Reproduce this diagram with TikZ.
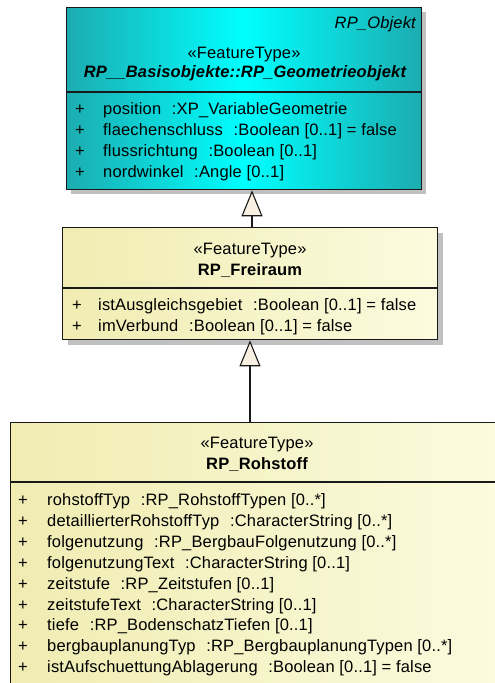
\documentclass[tikz,border=0pt]{standalone}
\usepackage{fontspec}
\setmainfont{Liberation Sans}[LetterSpace=1]
\usetikzlibrary{arrows.meta}
\definecolor{tealedge}{RGB}{28,172,176}
\definecolor{cyanmid}{RGB}{0,255,255}
\definecolor{yelL}{RGB}{240,236,178}
\definecolor{yelR}{RGB}{252,251,222}
\definecolor{shadowgray}{RGB}{192,192,192}
\definecolor{trifill}{RGB}{250,240,226}
\definecolor{edgecol}{RGB}{25,25,25}
\newcommand{\gp}{\hspace{0.65em}}
\begin{document}
\begin{tikzpicture}[x=1pt,y=-1pt,
  umlfont/.style={font=\fontsize{16.5}{19}\selectfont},
  txt/.style={umlfont, inner sep=0pt, anchor=base west},
  ctr/.style={umlfont, inner sep=0pt, anchor=base},
  rgt/.style={umlfont, inner sep=0pt, anchor=base east},
  shadowbox/.style={fill=shadowgray, draw=none},
  classbox/.style={draw=edgecol, line width=1.3pt, inner sep=0pt, anchor=north west},
  cyanbox/.style={classbox, left color=tealedge, right color=tealedge, middle color=cyanmid},
  yelbox/.style={classbox, left color=yelL, right color=yelR},
  sepline/.style={draw=edgecol, line width=1.2pt},
  gen/.style={draw=edgecol, line width=1.1pt, -{Triangle[length=26pt,width=21pt,fill=trifill,line width=1.1pt]}}
]
\useasboundingbox (0,0) rectangle (495,683);
\clip (0,0) rectangle (495,683);

% ---------- RP_Geometrieobjekt ----------
\fill[shadowbox] (71,12) rectangle (426,194);
\node[cyanbox, minimum width=355pt, minimum height=182pt] (geom) at (66,7) {};
\draw[sepline] (66,92) -- (421,92);
\node[rgt, font=\fontsize{16.5}{19}\selectfont\itshape] (geomtag) at (416,28.5) {RP\_Objekt};
\node[ctr] (geomst) at (244,58.5) {«FeatureType»};
\node[ctr, font=\fontsize{16.5}{19}\selectfont\bfseries\itshape] (geomname) at (245,77.5) {RP\_\_Basisobjekte::RP\_Geometrieobjekt};
\foreach \i/\t in {0/{position\gp:XP\_VariableGeometrie},
                   1/{flaechenschluss\gp:Boolean [0..1] = false},
                   2/{flussrichtung\gp:Boolean [0..1]},
                   3/{nordwinkel\gp:Angle [0..1]}}{
  \node[ctr] (gp\i) at (80,114.5+21*\i) {+};
  \node[txt] (ga\i) at (103,114.5+21*\i) {\t};
}

% ---------- RP_Freiraum ----------
\fill[shadowbox] (68,233) rectangle (443,345);
\node[yelbox, minimum width=375pt, minimum height=112pt] (frei) at (62,227) {};
\draw[sepline] (62,288) -- (437,288);
\node[ctr] (freist) at (250,254.5) {«FeatureType»};
\node[ctr, font=\fontsize{16.5}{19}\selectfont\bfseries] (freiname) at (250,275.5) {RP\_Freiraum};
\foreach \i/\t in {0/{istAusgleichsgebiet\gp:Boolean [0..1] = false},
                   1/{imVerbund\gp:Boolean [0..1] = false}}{
  \node[ctr] (fp\i) at (77,310.5+21*\i) {+};
  \node[txt] (fa\i) at (98,310.5+21*\i) {\t};
}

% ---------- RP_Rohstoff ----------
\node[yelbox, minimum width=495pt, minimum height=280pt] (roh) at (10,422) {};
\draw[sepline] (10,482) -- (505,482);
\node[ctr] (rohst) at (257,448.5) {«FeatureType»};
\node[ctr, font=\fontsize{16.5}{19}\selectfont\bfseries] (rohname) at (257,469.5) {RP\_Rohstoff};
\foreach \i/\t in {0/{rohstoffTyp\gp:RP\_RohstoffTypen [0..*]},
                   1/{detaillierterRohstoffTyp\gp:CharacterString [0..*]},
                   2/{folgenutzung\gp:RP\_BergbauFolgenutzung [0..*]},
                   3/{folgenutzungText\gp:CharacterString [0..1]},
                   4/{zeitstufe\gp:RP\_Zeitstufen [0..1]},
                   5/{zeitstufeText\gp:CharacterString [0..1]},
                   6/{tiefe\gp:RP\_BodenschatzTiefen [0..1]},
                   7/{bergbauplanungTyp\gp:RP\_BergbauplanungTypen [0..*]},
                   8/{istAufschuettungAblagerung\gp:Boolean [0..1] = false}}{
  \node[ctr] (rp\i) at (23,505.5+20.9*\i) {+};
  \node[txt] (ra\i) at (47,505.5+20.9*\i) {\t};
}

% ---------- generalizations ----------
\coordinate (cA) at (252,0);
\coordinate (cB) at (250,0);
\draw[gen] (cA |- frei.north) -- (cA |- geom.south);
\draw[gen] (cB |- roh.north) -- (cB |- frei.south);
\end{tikzpicture}
\end{document}
